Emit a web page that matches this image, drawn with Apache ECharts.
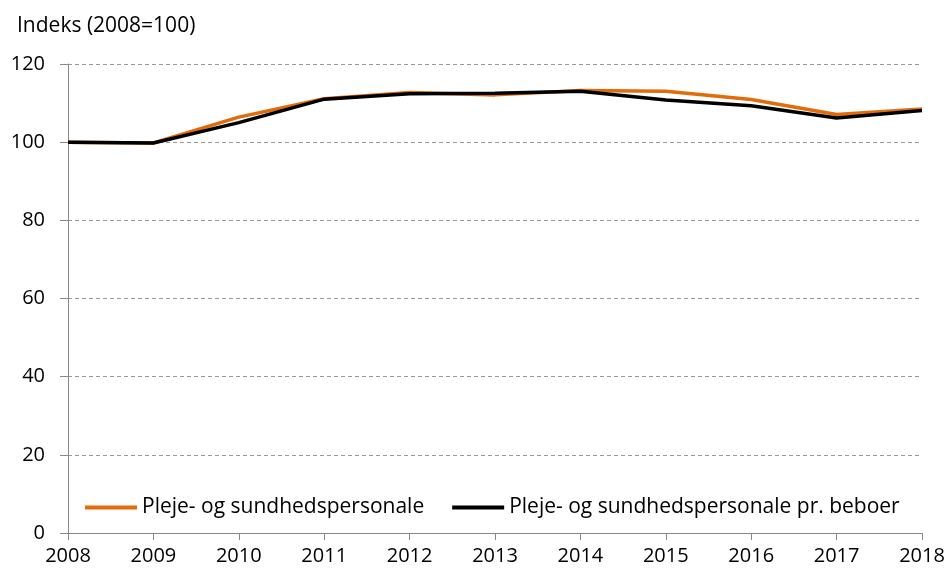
<!DOCTYPE html>
<html>
<head>
<meta charset="utf-8">
<script src="https://cdn.jsdelivr.net/npm/echarts@6/dist/echarts.min.js"></script>
<style>
  html, body { margin: 0; padding: 0; background: #fff; }
  #chart { width: 949px; height: 574px; }
</style>
</head>
<body>
<div id="chart"></div>
<script>
const years = ["2008", "2009", "2010", "2011", "2012", "2013", "2014", "2015", "2016", "2017", "2018"];
const personale = [100, 99.8, 106.4, 111.1, 112.7, 112.1, 113.2, 113.0, 110.9, 107.1, 108.5];
const prBeboer = [100, 99.8, 105.0, 111.0, 112.4, 112.5, 113.0, 110.8, 109.3, 106.2, 108.1];

const font = "'Open Sans', sans-serif";
const chart = echarts.init(document.getElementById("chart"));

chart.setOption({
  animation: false,
  textStyle: { fontFamily: font },
  title: {
    text: "Indeks (2008=100)",
    left: 12,
    top: 11,
    textStyle: { fontFamily: font, fontSize: 21, fontWeight: "normal", color: "#000" }
  },
  legend: {
    left: 80,
    top: 492,
    itemWidth: 52,
    itemHeight: 4,
    itemGap: 28,
    icon: "rect",
    textStyle: { fontFamily: font, fontSize: 21, color: "#000" },
    data: ["Pleje- og sundhedspersonale", "Pleje- og sundhedspersonale pr. beboer"]
  },
  grid: { left: 68, right: 27, top: 64, bottom: 41 },
  xAxis: {
    type: "category",
    data: years,
    boundaryGap: false,
    axisLine: { lineStyle: { color: "#888" } },
    axisTick: { alignWithLabel: true, length: 7, lineStyle: { color: "#888" } },
    axisLabel: { color: "#000", fontSize: 20, fontFamily: font, margin: 13 }
  },
  yAxis: {
    type: "value",
    min: 0,
    max: 120,
    interval: 20,
    axisLine: { show: true, lineStyle: { color: "#888" } },
    axisTick: { show: true, length: 8, lineStyle: { color: "#888" } },
    axisLabel: { color: "#000", fontSize: 20, fontFamily: font, margin: 23 },
    splitLine: { lineStyle: { color: "#999", type: [4, 3] } }
  },
  series: [
    {
      name: "Pleje- og sundhedspersonale",
      type: "line",
      data: personale,
      symbol: "none",
      color: "#E26B0A",
      lineStyle: { width: 3.5, color: "#E26B0A" }
    },
    {
      name: "Pleje- og sundhedspersonale pr. beboer",
      type: "line",
      data: prBeboer,
      symbol: "none",
      color: "#000",
      lineStyle: { width: 3.5, color: "#000" }
    }
  ]
});
</script>
</body>
</html>
